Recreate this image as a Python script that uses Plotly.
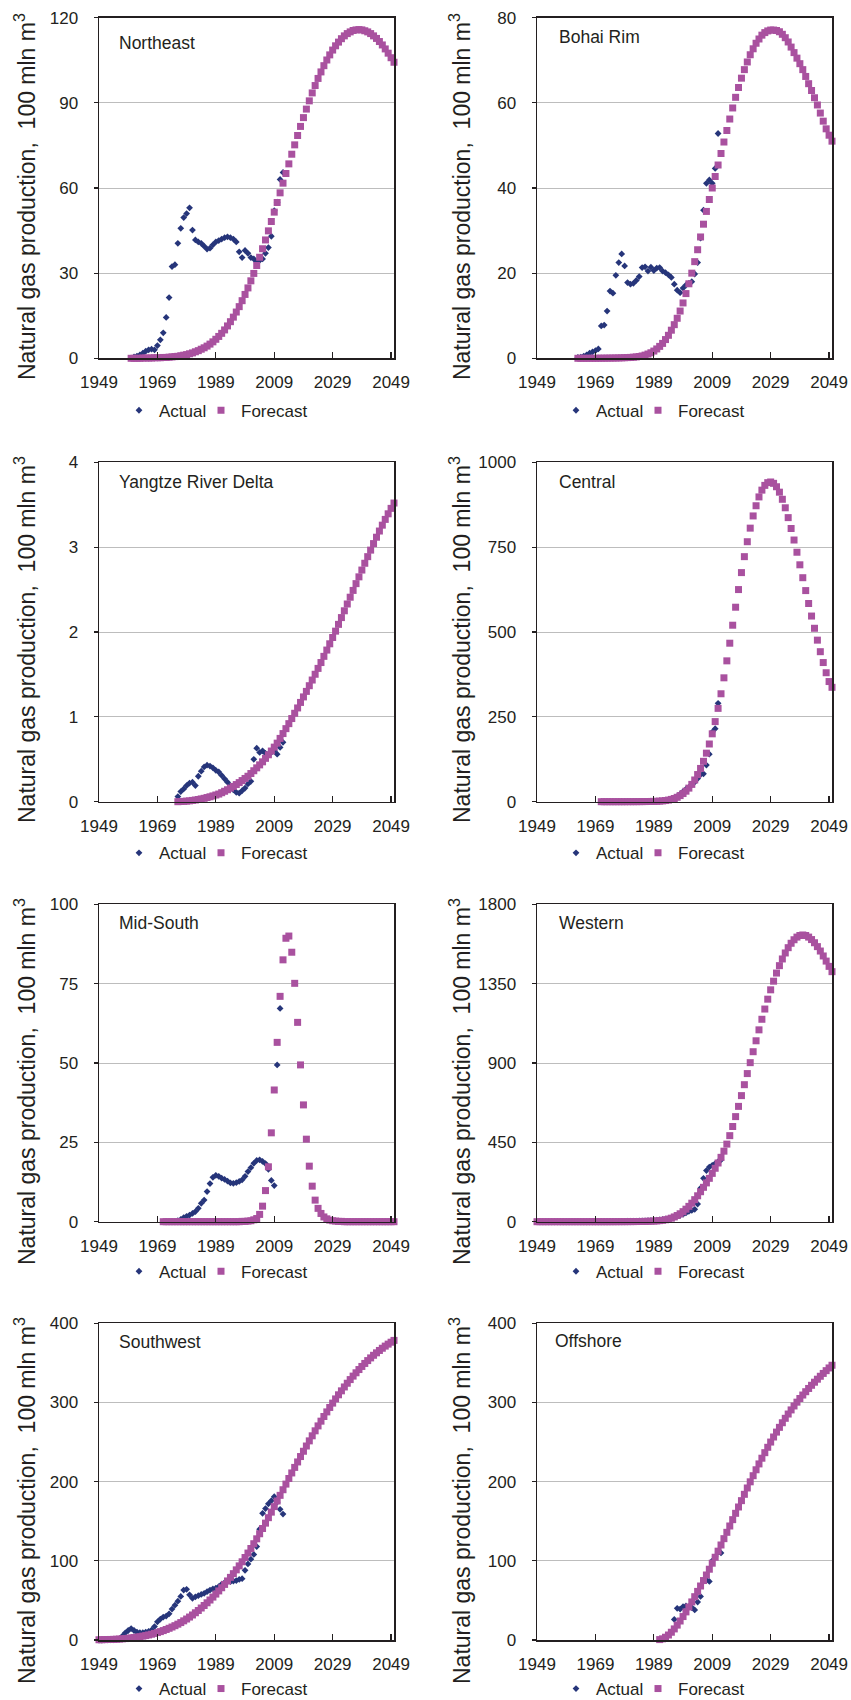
import plotly.graph_objects as go

# ---------------- data ----------------
YEAR_TICKS = [1949, 1969, 1989, 2009, 2029, 2049]
YEAR_TICK_LABELS = ["1949", "1969", "1989", "2009", "2029", "2049"]
X_RANGE = [1949, 2050]

# Northeast
NE_ACTUAL_START = 1961
NE_ACTUAL = [0.5, 0.8, 1.2, 1.8, 2.5, 3.0, 3.2, 3.0, 4.5, 6.5,
             9.0, 14.4, 21.4, 32.3, 33.0, 40.5, 45.8, 49.6, 51.0, 53.0,
             45.2, 41.7, 41.0, 40.5, 39.5, 38.5, 38.8, 40.0, 41.0, 41.5,
             42.0, 42.5, 42.8, 42.5, 42.0, 41.0, 37.5, 35.5, 38.0, 37.0,
             35.5, 35.0, 34.0, 34.5, 35.0, 37.0, 39.0, 43.0, 52.0, 55.0,
             63.0, 65.5]
NE_FORECAST_START = 1960
NE_FORECAST = [0.0, 0.0, 0.0, 0.0, 0.1, 0.1, 0.1, 0.1, 0.2, 0.2,
               0.2, 0.3, 0.3, 0.4, 0.5, 0.6, 0.7, 0.9, 1.1, 1.3,
               1.6, 1.9, 2.3, 2.7, 3.2, 3.7, 4.3, 5.0, 5.8, 6.7,
               7.7, 8.8, 10.0, 11.4, 12.9, 14.5, 16.3, 18.2, 20.3, 22.5,
               24.8, 27.3, 29.9, 32.7, 35.6, 38.6, 41.7, 44.9, 48.2, 51.5,
               54.9, 58.3, 61.7, 65.1, 68.5, 71.9, 75.2, 78.5, 81.7, 84.8,
               87.8, 90.7, 93.5, 96.1, 98.6, 100.9, 103.1, 105.1, 106.9, 108.6,
               110.1, 111.4, 112.6, 113.6, 114.4, 115.0, 115.5, 115.7, 115.8, 115.7,
               115.4, 115.0, 114.4, 113.6, 112.7, 111.6, 110.4, 109.0, 107.5, 105.9,
               104.3]

# Bohai Rim
BR_ACTUAL_START = 1963
BR_ACTUAL = [0.2, 0.3, 0.5, 0.8, 1.2, 1.5, 1.8, 2.2, 7.6, 7.8,
             11.1, 15.8, 15.3, 19.5, 22.5, 24.5, 21.7, 17.8, 17.4, 17.6,
             18.3, 19.2, 21.3, 21.5, 20.5, 21.4, 20.6, 21.2, 21.3, 20.5,
             20.1, 19.6, 19.0, 17.4, 16.0, 15.4, 16.5, 17.2, 17.6, 18.0,
             19.8, 22.5, 28.2, 34.8, 41.1, 41.9, 41.1, 44.6, 52.8]
BR_FORECAST_START = 1963
BR_FORECAST = [0.0, 0.0, 0.0, 0.0, 0.01, 0.01, 0.01, 0.02, 0.02, 0.03,
               0.04, 0.05, 0.06, 0.07, 0.09, 0.11, 0.14,
               0.17, 0.21, 0.26, 0.33, 0.42, 0.55, 0.75, 1.0, 1.3, 1.7,
               2.2, 2.8, 3.5, 4.4, 5.4, 6.6, 7.9, 9.4, 11.1, 13.0,
               15.2, 17.5, 20.0, 22.7, 25.5, 28.5, 31.5, 34.5, 37.3, 40.0,
               42.7, 45.4, 48.1, 50.8, 53.5, 56.2, 58.8, 61.3, 63.6, 65.8,
               67.8, 69.6, 71.3, 72.7, 74.0, 75.0, 75.9, 76.5, 76.9, 77.1,
               77.1, 77.0, 76.7, 76.1, 75.3, 74.3, 73.1, 71.8, 70.5, 69.2,
               67.8, 66.2, 64.5, 62.9, 61.2, 59.5, 57.6, 55.7, 53.9, 52.4,
               51.0]

# Yangtze River Delta
YR_ACTUAL_START = 1976
YR_ACTUAL = [0.06, 0.12, 0.15, 0.19, 0.22, 0.23, 0.19, 0.30, 0.36, 0.41,
             0.43, 0.42, 0.40, 0.37, 0.35, 0.31, 0.27, 0.23, 0.19, 0.14,
             0.11, 0.10, 0.13, 0.16, 0.21, 0.24, 0.50, 0.63, 0.58, 0.60,
             0.57, 0.56, 0.58, 0.60, 0.56, 0.64, 0.70]
YR_FORECAST_START = 1976
YR_FORECAST = [0.000, 0.002, 0.004, 0.007, 0.010, 0.015, 0.020, 0.026, 0.033, 0.040,
               0.049, 0.058, 0.068, 0.079, 0.090, 0.106, 0.123, 0.141, 0.160, 0.180,
               0.202, 0.225, 0.249, 0.274, 0.300, 0.332, 0.365, 0.399, 0.434, 0.470,
               0.511, 0.553, 0.597, 0.643, 0.690, 0.746, 0.803, 0.861, 0.920, 0.980,
               1.042, 1.105, 1.170, 1.235, 1.300, 1.367, 1.434, 1.502, 1.571, 1.640,
               1.713, 1.787, 1.861, 1.935, 2.010, 2.090, 2.170, 2.250, 2.330, 2.410,
               2.490, 2.570, 2.650, 2.730, 2.810, 2.888, 2.965, 3.042, 3.117, 3.190,
               3.259, 3.327, 3.393, 3.457, 3.520]

# Central
CE_ACTUAL_START = 1971
CE_ACTUAL = [0.1, 0.1, 0.1, 0.2, 0.2, 0.3, 0.3, 0.4, 0.4, 0.5,
             0.5, 0.6, 0.7, 0.8, 0.9, 1.0, 1.2, 1.4, 1.6, 2.0,
             2.5, 3.2, 4.2, 5.5, 7.5, 11, 16, 22, 30, 37,
             42, 50, 58, 68, 80, 82, 108, 140, 205, 215,
             290]
CE_FORECAST_START = 1971
CE_FORECAST = [0.0, 0.0, 0.0, 0.0, 0.0, 0.0, 0.0, 0.0, 0.0, 0.1,
               0.1, 0.1, 0.2, 0.2, 0.3, 0.4, 0.5, 0.7, 0.9, 1.2,
               1.7, 2.4, 3.4, 4.8, 6.8, 9.5, 13, 18, 24, 31,
               40, 51, 64, 80, 98, 119, 143, 170, 200, 236,
               275, 318, 365, 415, 467, 520, 573, 625, 675, 722,
               766, 806, 842, 872, 898, 918, 932, 940, 942, 938,
               928, 912, 891, 866, 837, 805, 771, 735, 698, 660,
               622, 584, 547, 511, 476, 442, 410, 380, 354, 337]

# Mid-South
MS_ACTUAL_START = 1976
MS_ACTUAL = [0.3, 0.7, 1.3, 1.7, 2.1, 2.6, 3.2, 4.2, 5.8, 6.8,
             9.5, 12.0, 14.0, 14.6, 14.3, 13.7, 13.3, 12.8, 12.2, 12.1,
             12.3, 12.7, 13.2, 14.3, 15.8, 17.0, 18.4, 19.3, 19.5, 19.0,
             18.3, 16.5, 13.0, 11.4, 49.4, 67.2]
MS_FORECAST_START = 1971
MS_FORECAST = [0.0, 0.0, 0.0, 0.0, 0.0, 0.0, 0.0, 0.0, 0.0, 0.0,
               0.0, 0.0, 0.0, 0.0, 0.0, 0.0, 0.0, 0.0, 0.0, 0.0,
               0.0, 0.0, 0.0, 0.0, 0.0, 0.0, 0.0, 0.1, 0.1, 0.2,
               0.3, 0.6, 1.0, 2.3, 4.9, 9.8, 17.3, 28.0, 41.5, 56.5,
               71.0, 82.5, 89.3, 90.0, 84.9, 75.1, 62.8, 49.4, 36.8, 26.0,
               17.5, 11.2, 6.8, 4.2, 2.6, 1.5, 0.9, 0.5, 0.3, 0.2,
               0.1, 0.1, 0.0, 0.0, 0.0, 0.0, 0.0, 0.0, 0.0, 0.0,
               0.0, 0.0, 0.0, 0.0, 0.0, 0.0, 0.0, 0.0, 0.0, 0.0]

# Western
WE_ACTUAL_START = 1970
WE_ACTUAL = [0.5, 0.6, 0.8, 1.0, 1.2, 1.5, 1.8, 2.0, 2.2, 2.5,
             2.8, 3.0, 3.3, 3.6, 4.0, 4.5, 5.0, 5.5, 6.5, 7.5,
             9, 11, 13, 15, 18, 22, 26, 31, 36, 42,
             50, 58, 64, 70, 100, 190, 246, 290, 310, 320,
             330, 340, 350]
WE_FORECAST_START = 1949
WE_FORECAST = [0.0, 0.0, 0.0, 0.0, 0.0, 0.0, 0.0, 0.0, 0.0, 0.0,
               0.0, 0.0, 0.0, 0.0, 0.0, 0.0, 0.0, 0.0, 0.0, 0.0,
               0.0, 0.0, 0.0, 0.0, 0.0, 0.0,
               0.1, 0.1, 0.2, 0.2, 0.3, 0.4, 0.5, 0.7, 0.9, 1.1,
               1.4, 1.8, 2.3, 2.9, 3.6, 4.5, 6, 8, 11, 15,
               20, 27, 35, 45, 57, 71, 87, 105, 125, 147,
               170, 195, 220, 246, 274, 303, 333, 365, 400, 440,
               488, 540, 596, 654, 715, 777, 840, 902, 964, 1026,
               1088, 1148, 1206, 1262, 1315, 1364, 1410, 1452, 1490, 1524,
               1554, 1579, 1599, 1614, 1623, 1626, 1623, 1614, 1600, 1582,
               1560, 1535, 1507, 1478, 1448, 1418]

# Southwest
SW_ACTUAL_START = 1949
SW_ACTUAL = [0.0, 0.0, 0.1, 0.1, 0.2, 0.3, 0.6, 1.5, 5.0, 9.0,
             12.0, 14.5, 12.0, 10.0, 9.3, 9.3, 10.0, 11.0, 12.5, 17.0,
             23.0, 26.5, 29.0, 30.3, 33.0, 39.0, 44.0, 49.0, 55.0, 63.0,
             64.0, 57.0, 52.6, 54.5, 56.0, 57.5, 59.0, 61.0, 63.0, 64.5,
             65.5, 67.5, 70.5, 72.5, 73.7, 73.7, 74.5, 75.0, 76.5, 77.5,
             88.0, 96.0, 102.0, 108.0, 118.0, 140.0, 160.0, 166.0, 172.0, 176.0,
             181.0, 174.0, 165.0, 159.0]
SW_FORECAST_START = 1949
SW_FORECAST = [0.3, 0.4, 0.5, 0.6, 0.7, 0.8, 1.0, 1.2, 1.5, 1.8,
               2.2, 2.6, 3.1, 3.6, 4.2, 4.9, 5.6, 6.4, 7.3, 8.3,
               9.4, 10.6, 11.9, 13.3, 14.8, 16.4, 18.1, 20.0, 22.0, 24.2,
               26.5, 29.0, 31.6, 34.4, 37.3, 40.4, 43.6, 47.0, 50.5, 54.2,
               58.0, 62.0, 66.0, 70.2, 74.6, 79.1, 83.8, 88.6, 93.6, 98.8,
               104.2, 109.8, 115.6, 121.6, 127.8, 134.2, 140.8, 147.6, 154.5, 161.5,
               168.5, 175.6, 182.7, 189.8, 196.9, 204.0, 211.0, 218.0, 224.9, 231.7,
               238.4, 245.0, 251.5, 257.9, 264.2, 270.4, 276.4, 282.3, 288.1, 293.7,
               299.2, 304.5, 309.7, 314.7, 319.6, 324.3, 328.9, 333.3, 337.5, 341.6,
               345.5, 349.3, 352.9, 356.3, 359.6, 362.7, 365.7, 368.5, 371.2, 373.7,
               376.1, 378.4]

# Offshore
OF_ACTUAL_START = 1996
OF_ACTUAL = [26, 40, 39, 42, 43, 42, 41, 38, 48, 55,
             74, 76, 74, 100, 105, 111, 110]
OF_FORECAST_START = 1991
OF_FORECAST = [0.5, 1.5, 3.5, 6.3, 9.8, 14.0, 18.8, 24.0, 29.6, 35.5,
               41.7, 48.1, 54.7, 61.4, 68.2, 75.1, 82.1, 89.4, 97.0, 104.5,
               112.2, 120.0, 128.0, 136.0, 144.0, 152.0, 160.0, 168.0, 176.0, 184.0,
               192.0, 199.8, 207.5, 215.0, 222.4, 229.6, 236.6, 243.4, 250.0, 256.4,
               262.6, 268.6, 274.4, 280.0, 285.4, 290.6, 295.6, 300.4, 305.0, 309.4,
               313.6, 317.7, 321.7, 325.6, 329.4, 333.1, 336.7, 340.2, 343.6, 347.0]

REGION_NAMES = ["Northeast", "Bohai Rim", "Yangtze River Delta", "Central",
                "Mid-South", "Western", "Southwest", "Offshore"]
Y_MAX = [120, 80, 4, 1000, 100, 1800, 400, 400]
Y_DTICK = [30, 20, 1, 250, 25, 450, 100, 100]
SERIES = [
    (NE_ACTUAL_START, NE_ACTUAL, NE_FORECAST_START, NE_FORECAST),
    (BR_ACTUAL_START, BR_ACTUAL, BR_FORECAST_START, BR_FORECAST),
    (YR_ACTUAL_START, YR_ACTUAL, YR_FORECAST_START, YR_FORECAST),
    (CE_ACTUAL_START, CE_ACTUAL, CE_FORECAST_START, CE_FORECAST),
    (MS_ACTUAL_START, MS_ACTUAL, MS_FORECAST_START, MS_FORECAST),
    (WE_ACTUAL_START, WE_ACTUAL, WE_FORECAST_START, WE_FORECAST),
    (SW_ACTUAL_START, SW_ACTUAL, SW_FORECAST_START, SW_FORECAST),
    (OF_ACTUAL_START, OF_ACTUAL, OF_FORECAST_START, OF_FORECAST),
]
Y_TITLE = "Natural gas production,\u00a0 100 mln m<sup>3</sup>"
LEGEND_NAMES = ["Actual", "Forecast"]

# ---------------- layout (pixels in the 851x1700 page) ----------------
W, H = 851, 1700
FONT = "Liberation Sans, Arial, Helvetica, sans-serif"
INK = "#231F20"
ACTUAL_COLOR = "#26357A"
FORECAST_COLOR = "#A9519F"

COL_X = [(99, 394), (537, 832)]
ROW_Y = [(17.7, 358.3), (462.3, 801.7), (904.3, 1221.7), (1323.3, 1640.0)]
TITLE_X = [25, 460]
TITLE_Y = [197, 640, 1082, 1501]
LEGEND_Y = [410.7, 853.3, 1271.7, 1689.0]
LEGEND_X = [119, 556]
LABEL_POS = [(116.7, 43.3), (556.7, 36.7), (116.7, 482.3), (556.7, 482.3),
             (116.7, 923.3), (556.7, 923.3), (116.7, 1342.3), (553.3, 1340.7)]


def px(x):
    return x / W


def py(y):
    return 1 - y / H


fig = go.Figure()
layout = dict(
    width=W, height=H, autosize=False,
    margin=dict(l=0, r=0, t=0, b=0, pad=0, autoexpand=False),
    paper_bgcolor="white", plot_bgcolor="white",
    font=dict(family=FONT, color=INK, size=17),
    annotations=[],
)

for i, (a0, act, f0, fc) in enumerate(SERIES):
    n = i + 1
    row, col = divmod(i, 2)
    xa = "x" if n == 1 else f"x{n}"
    ya = "y" if n == 1 else f"y{n}"
    lg = "legend" if n == 1 else f"legend{n}"

    fig.add_trace(go.Scatter(
        x=list(range(a0, a0 + len(act))), y=act, mode="markers",
        name=LEGEND_NAMES[0], xaxis=xa, yaxis=ya, legend=lg,
        marker=dict(symbol="diamond", size=5.2, color=ACTUAL_COLOR, line=dict(width=0)),
        cliponaxis=False, hoverinfo="skip"))
    fig.add_trace(go.Scatter(
        x=list(range(f0, f0 + len(fc))), y=fc, mode="markers",
        name=LEGEND_NAMES[1], xaxis=xa, yaxis=ya, legend=lg,
        marker=dict(symbol="square", size=7, color=FORECAST_COLOR, line=dict(width=0)),
        cliponaxis=False, hoverinfo="skip"))
    # empty spacer entry so the legend box is wide enough for "Forecast"
    fig.add_trace(go.Scatter(
        x=[None], y=[None], mode="markers", name="\u00a0", xaxis=xa, yaxis=ya, legend=lg,
        marker=dict(symbol="square", size=1, color="rgba(0,0,0,0)", opacity=0),
        hoverinfo="skip"))

    x0, x1 = COL_X[col]
    y0, y1 = ROW_Y[row]
    layout["xaxis" if n == 1 else f"xaxis{n}"] = dict(
        domain=[px(x0), px(x1)], anchor=ya, range=X_RANGE, automargin=False,
        tickmode="array", tickvals=YEAR_TICKS, ticktext=YEAR_TICK_LABELS,
        ticks="inside", ticklen=6, tickwidth=1.2, tickcolor=INK,
        showline=True, mirror=True, linecolor=INK, linewidth=1.5,
        showgrid=False, zeroline=False, ticklabelstandoff=8,
        tickfont=dict(size=17, family=FONT, color=INK), fixedrange=True)
    layout["yaxis" if n == 1 else f"yaxis{n}"] = dict(
        domain=[py(y1), py(y0)], anchor=xa, range=[0, Y_MAX[i]], automargin=False,
        tick0=0, dtick=Y_DTICK[i],
        ticks="outside", ticklen=4, tickwidth=1.2, tickcolor=INK,
        showline=True, mirror=True, linecolor=INK, linewidth=1.5,
        showgrid=True, gridcolor="#BDBDBD", gridwidth=1, zeroline=False,
        ticklabelstandoff=12,
        tickfont=dict(size=17, family=FONT, color=INK), fixedrange=True)

    layout[lg] = dict(
        orientation="h", x=px(LEGEND_X[col]), y=py(LEGEND_Y[row]),
        xanchor="left", yanchor="middle", bgcolor="rgba(0,0,0,0)",
        borderwidth=0, itemwidth=30, tracegroupgap=0,
        entrywidth=37, entrywidthmode="pixels",
        font=dict(size=17, family=FONT, color=INK),
        itemclick=False, itemdoubleclick=False)

    lx, ly = LABEL_POS[i]
    layout["annotations"].append(dict(
        text=REGION_NAMES[i], x=px(lx), y=py(ly), xref="paper", yref="paper",
        xanchor="left", yanchor="middle", showarrow=False,
        font=dict(size=17.5, family=FONT, color=INK)))
    layout["annotations"].append(dict(
        text=Y_TITLE, x=px(TITLE_X[col]), y=py(TITLE_Y[row]), xref="paper", yref="paper",
        xanchor="center", yanchor="middle", textangle=-90, showarrow=False,
        font=dict(size=23, family=FONT, color=INK)))

fig.update_layout(**layout)
fig.write_html("out.html", config={"displayModeBar": False, "staticPlot": True},
               post_script="document.body.style.margin='0';document.body.style.overflow='hidden';")
